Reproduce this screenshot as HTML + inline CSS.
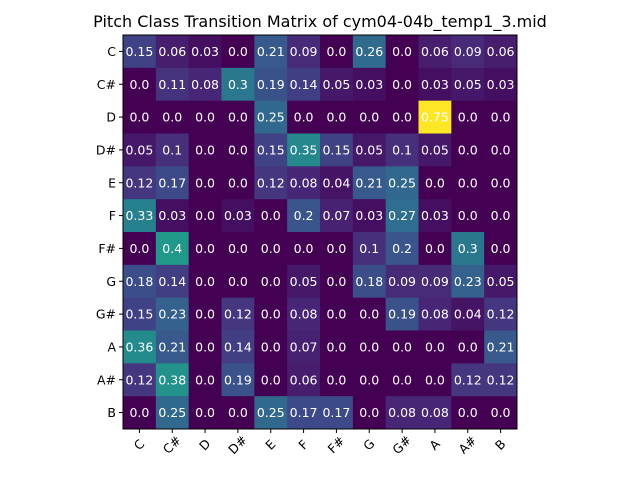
<!DOCTYPE html>
<html><head><meta charset="utf-8"><style>body{margin:0;background:#fff}svg{display:block;font-family:"DejaVu Sans","Liberation Sans",sans-serif}</style></head>
<body>
<svg id="chart" width="640" height="480">
<text x="320" y="27" text-anchor="middle" font-size="16">Pitch Class Transition Matrix of cym04-04b_temp1_3.mid</text>
<g id="cells"></g><g id="ticks"></g>
<rect x="123" y="35" width="394" height="394" fill="none" stroke="#000" stroke-width="1"/>
</svg>
<script>
const labels = ["C","C#","D","D#","E","F","F#","G","G#","A","A#","B"];
const row0 = [0.15,0.06,0.03,0.0,0.21,0.09,0.0,0.26,0.0,0.06,0.09,0.06];
const row1 = [0.0,0.11,0.08,0.3,0.19,0.14,0.05,0.03,0.0,0.03,0.05,0.03];
const row2 = [0.0,0.0,0.0,0.0,0.25,0.0,0.0,0.0,0.0,0.75,0.0,0.0];
const row3 = [0.05,0.1,0.0,0.0,0.15,0.35,0.15,0.05,0.1,0.05,0.0,0.0];
const row4 = [0.12,0.17,0.0,0.0,0.12,0.08,0.04,0.21,0.25,0.0,0.0,0.0];
const row5 = [0.33,0.03,0.0,0.03,0.0,0.2,0.07,0.03,0.27,0.03,0.0,0.0];
const row6 = [0.0,0.4,0.0,0.0,0.0,0.0,0.0,0.1,0.2,0.0,0.3,0.0];
const row7 = [0.18,0.14,0.0,0.0,0.0,0.05,0.0,0.18,0.09,0.09,0.23,0.05];
const row8 = [0.15,0.23,0.0,0.12,0.0,0.08,0.0,0.0,0.19,0.08,0.04,0.12];
const row9 = [0.36,0.21,0.0,0.14,0.0,0.07,0.0,0.0,0.0,0.0,0.0,0.21];
const row10 = [0.12,0.38,0.0,0.19,0.0,0.06,0.0,0.0,0.0,0.0,0.12,0.12];
const row11 = [0.0,0.25,0.0,0.0,0.25,0.17,0.17,0.0,0.08,0.08,0.0,0.0];
const matrix = [row0,row1,row2,row3,row4,row5,row6,row7,row8,row9,row10,row11];

const NS="http://www.w3.org/2000/svg";
const L=123,T=35,S=394,n=labels.length,cs=S/n;
const xPos=i=>L+i*cs, yPos=j=>T+j*cs;
let vmax=0; matrix.forEach(r=>r.forEach(v=>{if(v>vmax)vmax=v;}));
const vir=[[68,1,84],[72,40,120],[62,73,137],[49,104,142],[38,130,142],[31,158,137],[53,183,121],[109,205,89],[180,222,44],[253,231,37]];
function color(v){let t=vmax?v/vmax:0;t=Math.max(0,Math.min(1,t))*(vir.length-1);const i=Math.min(vir.length-2,Math.floor(t)),f=t-i;
 const c=vir[i].map((a,k)=>Math.round(a+(vir[i+1][k]-a)*f));return `rgb(${c})`;}
const cells=document.getElementById('cells'),ticks=document.getElementById('ticks');
matrix.forEach((r,j)=>r.forEach((v,i)=>{
 const rc=document.createElementNS(NS,'rect');
 rc.setAttribute('x',xPos(i));rc.setAttribute('y',yPos(j));rc.setAttribute('width',cs+0.5);rc.setAttribute('height',cs+0.5);rc.setAttribute('fill',color(v));
 
 
 cells.appendChild(rc);
 const tx=document.createElementNS(NS,'text');
 tx.setAttribute('x',xPos(i)+cs/2);tx.setAttribute('y',yPos(j)+cs/2+4.5);tx.setAttribute('text-anchor','middle');tx.setAttribute('font-size','12.5');tx.setAttribute('fill','#fff');
 tx.textContent=String(v%1===0?v.toFixed(1):v);
 
 
 cells.appendChild(tx);
}));
labels.forEach((lb,k)=>{
 const cx=xPos(k)+cs/2, cy=yPos(k)+cs/2;
 const t1=document.createElementNS(NS,'line');t1.setAttribute('x1',L);t1.setAttribute('x2',L-4);t1.setAttribute('y1',cy);t1.setAttribute('y2',cy);t1.setAttribute('stroke','#000');
 
 
 ticks.appendChild(t1);
 const yl=document.createElementNS(NS,'text');yl.setAttribute('x',L-7);yl.setAttribute('y',cy+4.5);yl.setAttribute('text-anchor','end');yl.setAttribute('font-size','12.5');yl.textContent=lb;
 
 
 ticks.appendChild(yl);
 const t2=document.createElementNS(NS,'line');t2.setAttribute('x1',cx);t2.setAttribute('x2',cx);t2.setAttribute('y1',T+S);t2.setAttribute('y2',T+S+4);t2.setAttribute('stroke','#000');
 
 
 ticks.appendChild(t2);
 const xl=document.createElementNS(NS,'text');const ly=T+S+16;
 xl.setAttribute('x',cx);xl.setAttribute('y',ly+4);xl.setAttribute('text-anchor','middle');xl.setAttribute('font-size','12.5');
 xl.setAttribute('transform',`rotate(-45 ${cx} ${ly})`);xl.textContent=lb;
 
 
 ticks.appendChild(xl);
});
</script>
</body></html>
